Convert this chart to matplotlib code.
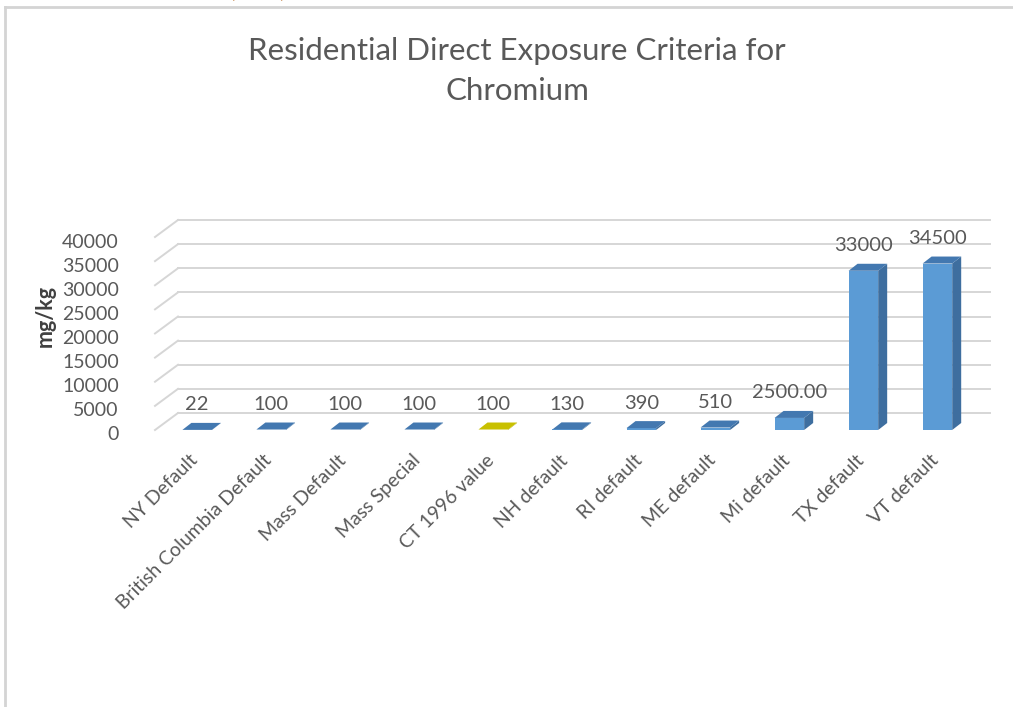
import matplotlib.pyplot as plt
from matplotlib.lines import Line2D
from matplotlib.patches import Polygon
from matplotlib.transforms import ScaledTranslation

# Chromium residential criteria (mg/kg)
categories = ["NY Default", "British Columbia Default", "Mass Default", "Mass Special",
              "CT 1996 value", "NH default", "RI default", "ME default", "Mi default",
              "TX default", "VT default"]
values = [22, 100, 100, 100, 100, 130, 390, 510, 2500, 33000, 34500]
value_labels = ["22", "100", "100", "100", "100", "130", "390", "510", "2500.00", "33000", "34500"]
highlight = "CT 1996 value"
yticks = [0, 5000, 10000, 15000, 20000, 25000, 30000, 35000, 40000]

plt.rcParams['font.family'] = ['Lato', 'DejaVu Sans']
grey = "#595959"

W, H = 1013, 707
fig = plt.figure(figsize=(W / 100, H / 100), dpi=100)

# front plane of the 3-D box, in pixels
left_px, right_px, bottom_px, top_px = 155, 967, 430, 237
ax = fig.add_axes([left_px / W, 1 - bottom_px / H, (right_px - left_px) / W, (bottom_px - top_px) / H])
x0, x1 = -0.57, 10.4
ax.set_xlim(x0, x1)
ax.set_ylim(0, 40000)
for s in ax.spines.values():
    s.set_visible(False)

# pixel -> data scale
sx = (x1 - x0) / (right_px - left_px)
sy = 40000 / (bottom_px - top_px)

# back wall offset and bar depth offset (pixels)
wall_dx, wall_dy = 23, 17
bar_dx, bar_dy = 9, 7

# wall gridlines and side-wall diagonals
for t in yticks:
    ax.plot([x0 + wall_dx * sx, x1 + wall_dx * sx], [t + wall_dy * sy] * 2,
            color="#d6d6d6", lw=1.4, clip_on=False, zorder=1)
    ax.plot([x0, x0 + wall_dx * sx], [t, t + wall_dy * sy],
            color="#d6d6d6", lw=1.4, clip_on=False, zorder=1)

# 3-D bars: front, side and top faces
half = 0.2
ddx, ddy = bar_dx * sx, bar_dy * sy
for i, (cat, v) in enumerate(zip(categories, values)):
    if cat == highlight:
        front_c, side_c, top_c = "#d4cc00", "#a9a200", "#c8c000"
    else:
        front_c, side_c, top_c = "#5b9bd5", "#3e6e9f", "#4378b0"
    xl, xr = i - half, i + half
    front = Polygon([(xl, 0), (xr, 0), (xr, v), (xl, v)], closed=True, fc=front_c, ec="none", zorder=3)
    side = Polygon([(xr, 0), (xr + ddx, ddy), (xr + ddx, v + ddy), (xr, v)], closed=True,
                   fc=side_c, ec="none", zorder=3)
    top = Polygon([(xl, v), (xr, v), (xr + ddx, v + ddy), (xl + ddx, v + ddy)], closed=True,
                  fc=top_c, ec="none", zorder=3)
    for p in (front, side, top):
        p.set_clip_on(False)
        ax.add_patch(p)
    ax.annotate(value_labels[i], (i, v), xytext=(0, 25), textcoords="offset pixels",
                ha="center", va="center", fontsize=14.5, color=grey, zorder=4)

ax.set_yticks(yticks)
ax.set_yticklabels([str(t) for t in yticks], fontsize=14, color=grey)
ax.tick_params(axis="y", length=0, pad=26)
for lbl in ax.get_yticklabels():
    lbl.set_va("center")
    lbl.set_transform(lbl.get_transform() + ScaledTranslation(0, -0.05, fig.dpi_scale_trans))

ax.set_xticks(range(len(categories)))
ax.set_xticklabels(categories, rotation=45, ha="right", rotation_mode="anchor",
                   fontsize=14, color=grey)
ax.tick_params(axis="x", length=0, pad=17)
for lbl in ax.get_xticklabels():
    lbl.set_transform(lbl.get_transform() + ScaledTranslation(-0.08, 0.02, fig.dpi_scale_trans))

fig.text(45 / W, 1 - 316 / H, "mg/kg", rotation=90, ha="center", va="center",
         fontsize=15.5, fontweight="bold", color="#404040")
fig.text(517 / W, 1 - 71 / H, "Residential Direct Exposure Criteria for\nChromium",
         ha="center", va="center", fontsize=22.5, color=grey, linespacing=1.5)

# frame of the chart area and a clipped note above it
fig.add_artist(Line2D([5 / W, 1], [1 - 7 / H, 1 - 7 / H], color="#d4d4d4", lw=2))
fig.add_artist(Line2D([5 / W, 5 / W], [0, 1 - 7 / H], color="#d4d4d4", lw=2))
fig.text(258 / W, 1 + 9 / H, "(         )", ha="center", va="center", fontsize=14, color="#b5651d")

fig.savefig("out.png", dpi=100)
